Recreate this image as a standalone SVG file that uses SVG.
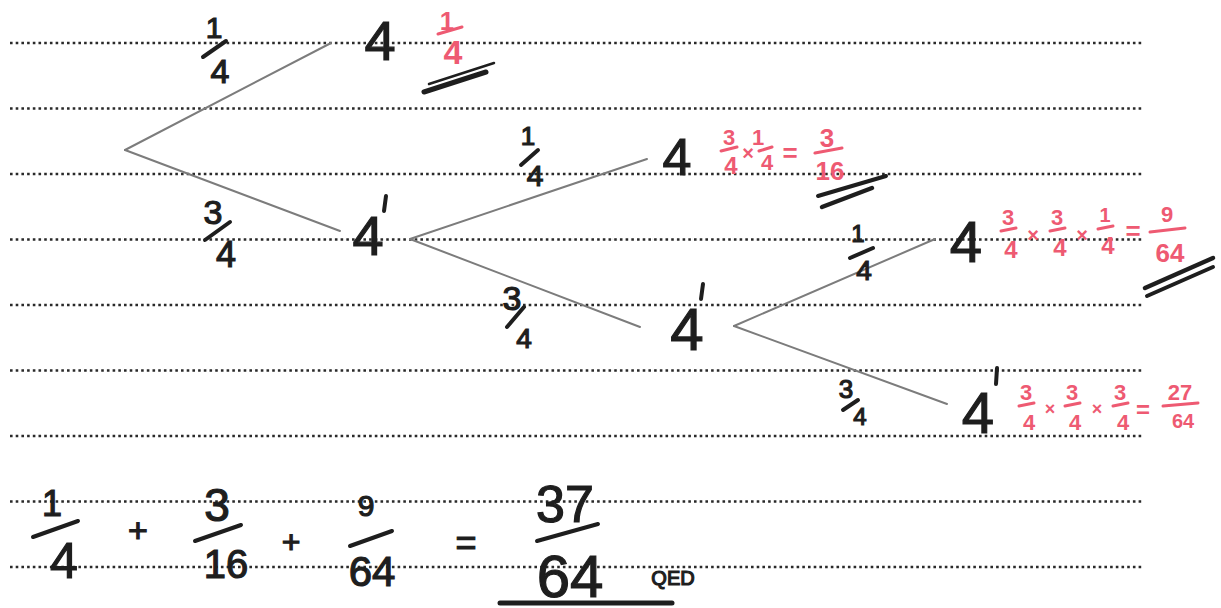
<svg xmlns="http://www.w3.org/2000/svg" width="1221" height="608" viewBox="0 0 1221 608">
<style>
.rule{stroke:#2a2a2a;stroke-width:2.6;stroke-dasharray:2.6 3.1;fill:none}
.branch{stroke:#7c7c7c;stroke-width:2;fill:none;stroke-linecap:round}
.ink{font-family:"Liberation Sans",Arial,sans-serif;font-weight:400;fill:#1e1e1e;stroke:#1e1e1e;stroke-width:1.2;text-anchor:middle}
.red{font-family:"Liberation Sans",Arial,sans-serif;font-weight:700;fill:#ee5a72;text-anchor:middle}
.bar{stroke:#1e1e1e;stroke-width:4;stroke-linecap:round;fill:none}
.rbar{stroke:#ee5a72;stroke-width:3;stroke-linecap:round;fill:none}
.under{stroke:#1e1e1e;stroke-linecap:round;fill:none}
</style>
<rect width="1221" height="608" fill="#ffffff"/>
<g id="rules">
<line class="rule" x1="10" y1="43" x2="1142" y2="43"/>
<line class="rule" x1="10" y1="108.5" x2="1142" y2="108.5"/>
<line class="rule" x1="10" y1="174" x2="1142" y2="174"/>
<line class="rule" x1="10" y1="239.5" x2="1142" y2="239.5"/>
<line class="rule" x1="10" y1="305" x2="1142" y2="305"/>
<line class="rule" x1="10" y1="370.5" x2="1142" y2="370.5"/>
<line class="rule" x1="10" y1="436" x2="1142" y2="436"/>
<line class="rule" x1="10" y1="501.5" x2="1142" y2="501.5"/>
<line class="rule" x1="10" y1="567" x2="1142" y2="567"/>
</g>
<g id="connectors">
<line class="branch" x1="125" y1="150" x2="331" y2="43"/>
<line class="branch" x1="125" y1="150" x2="340" y2="231"/>
<line class="branch" x1="410" y1="239" x2="647" y2="159"/>
<line class="branch" x1="410" y1="239" x2="640" y2="327"/>
<line class="branch" x1="734" y1="326" x2="935" y2="239"/>
<line class="branch" x1="734" y1="326" x2="947" y2="404"/>
<g id="label-a">
<text class="ink" x="214" y="38" font-size="30">1</text>
<line class="bar" x1="203" y1="57" x2="226" y2="41"/>
<text class="ink" x="220" y="83" font-size="34">4</text>
</g>
<g id="label-b">
<text class="ink" x="213" y="224" font-size="34">3</text>
<line class="bar" x1="205" y1="240" x2="230" y2="222"/>
<text class="ink" x="226" y="267" font-size="36">4</text>
</g>
<g id="label-c">
<text class="ink" x="528" y="145" font-size="26">1</text>
<line class="bar" x1="521" y1="165" x2="538" y2="150"/>
<text class="ink" x="535" y="186" font-size="30">4</text>
</g>
<g id="label-d">
<text class="ink" x="512" y="310" font-size="34">3</text>
<line class="bar" x1="507" y1="327" x2="524" y2="307"/>
<text class="ink" x="524" y="348" font-size="28">4</text>
</g>
<g id="label-e">
<text class="ink" x="858" y="242" font-size="24">1</text>
<line class="bar" x1="850" y1="258" x2="873" y2="248"/>
<text class="ink" x="864" y="280" font-size="28">4</text>
</g>
<g id="label-f">
<text class="ink" x="846" y="398" font-size="26">3</text>
<line class="bar" x1="843" y1="410" x2="858" y2="400"/>
<text class="ink" x="860" y="425" font-size="24">4</text>
</g>
</g>
<g id="node-4-a">
<text class="ink" x="380" y="60" font-size="56">4</text>
<text class="red" x="447" y="30" font-size="26">1</text>
<line class="rbar" x1="438" y1="34" x2="462" y2="27"/>
<text class="red" x="453" y="64" font-size="34">4</text>
<line class="under" stroke-width="5" x1="424" y1="92" x2="486" y2="72"/>
<line class="under" stroke-width="2.5" x1="429" y1="84" x2="494" y2="63"/>
</g>
<g id="node-4p-a">
<text class="ink" x="368" y="255" font-size="56">4</text>
<line class="bar" x1="386" y1="196" x2="384" y2="211"/>
</g>
<g id="node-4-b">
<text class="ink" x="677" y="175" font-size="52">4</text>
<text class="red" x="729" y="145" font-size="22">3</text>
<line class="rbar" x1="721" y1="151" x2="737" y2="147"/>
<text class="red" x="731" y="174" font-size="24">4</text>
<text class="red" x="748" y="160" font-size="20">×</text>
<text class="red" x="758" y="145" font-size="22">1</text>
<line class="rbar" x1="759" y1="151" x2="772" y2="147"/>
<text class="red" x="767" y="170" font-size="22">4</text>
<text class="red" x="790" y="162" font-size="26">=</text>
<text class="red" x="827" y="147" font-size="26">3</text>
<line class="rbar" x1="815" y1="153" x2="842" y2="148"/>
<text class="red" x="830" y="180" font-size="26">16</text>
<line class="under" stroke-width="4" x1="818" y1="196" x2="886" y2="176"/>
<line class="under" stroke-width="4.5" x1="822" y1="207" x2="872" y2="188"/>
</g>
<g id="node-4p-b">
<text class="ink" x="687" y="350" font-size="60">4</text>
<line class="bar" x1="703" y1="284" x2="701" y2="299"/>
</g>
<g id="node-4-c">
<text class="ink" x="966" y="262" font-size="58">4</text>
<text class="red" x="1008" y="225" font-size="22">3</text>
<line class="rbar" x1="1001" y1="231" x2="1016" y2="228"/>
<text class="red" x="1011" y="258" font-size="24">4</text>
<text class="red" x="1033" y="242" font-size="20">×</text>
<text class="red" x="1057" y="225" font-size="22">3</text>
<line class="rbar" x1="1050" y1="231" x2="1065" y2="228"/>
<text class="red" x="1060" y="256" font-size="24">4</text>
<text class="red" x="1082" y="242" font-size="20">×</text>
<text class="red" x="1105" y="222" font-size="20">1</text>
<line class="rbar" x1="1098" y1="229" x2="1113" y2="226"/>
<text class="red" x="1108" y="254" font-size="24">4</text>
<text class="red" x="1133" y="240" font-size="26">=</text>
<text class="red" x="1167" y="222" font-size="22">9</text>
<line class="rbar" x1="1150" y1="232" x2="1185" y2="228"/>
<text class="red" x="1170" y="262" font-size="26">64</text>
<line class="under" stroke-width="4.5" x1="1145" y1="288" x2="1213" y2="258"/>
<line class="under" stroke-width="4" x1="1147" y1="296" x2="1213" y2="267"/>
</g>
<g id="node-4p-c">
<text class="ink" x="978" y="433" font-size="58">4</text>
<line class="bar" x1="997" y1="368" x2="996" y2="384"/>
<text class="red" x="1026" y="400" font-size="22">3</text>
<line class="rbar" x1="1019" y1="406" x2="1034" y2="403"/>
<text class="red" x="1029" y="430" font-size="22">4</text>
<text class="red" x="1050" y="415" font-size="18">×</text>
<text class="red" x="1072" y="400" font-size="22">3</text>
<line class="rbar" x1="1065" y1="406" x2="1080" y2="403"/>
<text class="red" x="1075" y="430" font-size="22">4</text>
<text class="red" x="1097" y="415" font-size="18">×</text>
<text class="red" x="1120" y="400" font-size="22">3</text>
<line class="rbar" x1="1113" y1="406" x2="1128" y2="403"/>
<text class="red" x="1123" y="430" font-size="22">4</text>
<text class="red" x="1143" y="418" font-size="24">=</text>
<text class="red" x="1180" y="400" font-size="22">27</text>
<line class="rbar" x1="1163" y1="406" x2="1198" y2="403"/>
<text class="red" x="1183" y="428" font-size="20">64</text>
</g>
<g id="sum">
<text class="ink" x="52" y="516" font-size="36">1</text>
<line class="bar" x1="33" y1="537" x2="78" y2="521"/>
<text class="ink" x="64" y="578" font-size="50">4</text>
<text class="ink" x="138" y="542" font-size="34">+</text>
<text class="ink" x="217" y="521" font-size="46">3</text>
<line class="bar" x1="195" y1="541" x2="241" y2="525"/>
<text class="ink" x="226" y="578" font-size="40">16</text>
<text class="ink" x="291" y="553" font-size="32">+</text>
<text class="ink" x="366" y="516" font-size="30">9</text>
<line class="bar" x1="350" y1="546" x2="392" y2="531"/>
<text class="ink" x="372" y="586" font-size="42">64</text>
<text class="ink" x="466" y="555" font-size="36">=</text>
<text class="ink" x="565" y="522" font-size="52">37</text>
<line class="bar" x1="537" y1="541" x2="598" y2="524"/>
<text class="ink" x="570" y="597" font-size="60">64</text>
<text class="ink" x="673" y="585" font-size="20">QED</text>
<line class="under" stroke-width="5" x1="500" y1="603" x2="672" y2="603"/>
</g>
</svg>
